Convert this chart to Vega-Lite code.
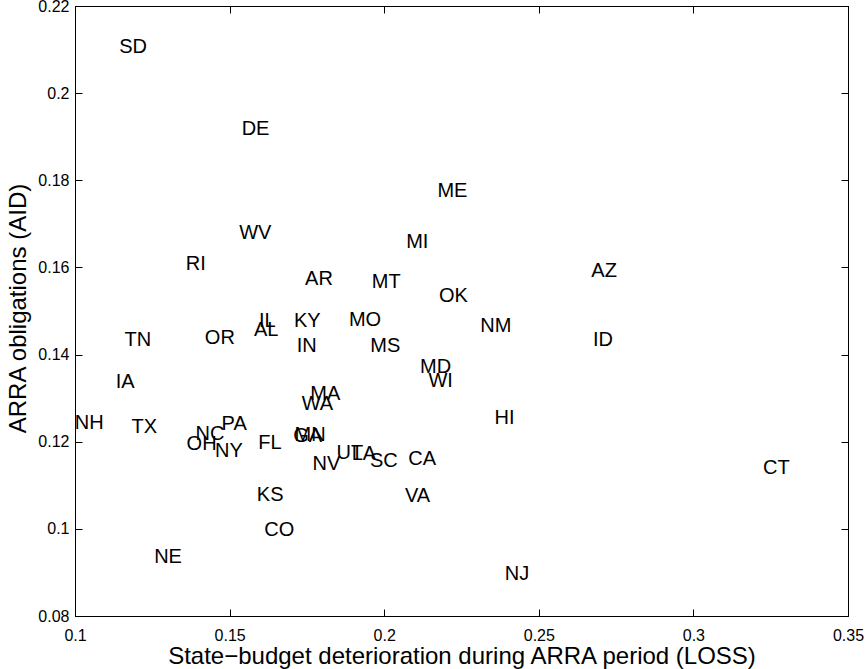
{
  "$schema": "https://vega.github.io/schema/vega-lite/v6.json",
  "width": 773,
  "height": 610,
  "autosize": {"type": "none"},
  "padding": {"left": 75, "top": 6, "right": 19, "bottom": 53},
  "background": "white",
  "config": {
    "view": {"stroke": "black", "strokeWidth": 1},
    "axis": {
      "grid": false,
      "domainColor": "black",
      "domainWidth": 1,
      "tickColor": "black",
      "tickWidth": 1,
      "tickSize": -7,
      "labelColor": "black",
      "titleColor": "black",
      "labelFont": "Liberation Sans",
      "titleFont": "Liberation Sans",
      "labelFontSize": 16,
      "titleFontSize": 24,
      "titleFontWeight": "normal",
      "labelFlush": false,
      "labelOverlap": false
    }
  },
  "data": {
    "values": [
      {"state": "SD", "loss": 0.1143, "aid": 0.2109},
      {"state": "DE", "loss": 0.1539, "aid": 0.1919},
      {"state": "ME", "loss": 0.2172, "aid": 0.1778},
      {"state": "WV", "loss": 0.1531, "aid": 0.1682},
      {"state": "MI", "loss": 0.2071, "aid": 0.1661},
      {"state": "RI", "loss": 0.1358, "aid": 0.1611},
      {"state": "AR", "loss": 0.1744, "aid": 0.1575},
      {"state": "MT", "loss": 0.1960, "aid": 0.1569},
      {"state": "OK", "loss": 0.2177, "aid": 0.1537},
      {"state": "AZ", "loss": 0.2670, "aid": 0.1594},
      {"state": "NM", "loss": 0.2311, "aid": 0.1468},
      {"state": "ID", "loss": 0.2675, "aid": 0.1436},
      {"state": "IL", "loss": 0.1595, "aid": 0.1480},
      {"state": "AL", "loss": 0.1579, "aid": 0.1458},
      {"state": "KY", "loss": 0.1708, "aid": 0.1479},
      {"state": "MO", "loss": 0.1886, "aid": 0.1481},
      {"state": "TN", "loss": 0.1160, "aid": 0.1435},
      {"state": "OR", "loss": 0.1420, "aid": 0.1441},
      {"state": "IN", "loss": 0.1717, "aid": 0.1423},
      {"state": "MS", "loss": 0.1955, "aid": 0.1421},
      {"state": "IA", "loss": 0.1132, "aid": 0.1340},
      {"state": "MD", "loss": 0.2116, "aid": 0.1374},
      {"state": "WI", "loss": 0.2143, "aid": 0.1342},
      {"state": "MA", "loss": 0.1761, "aid": 0.1311},
      {"state": "WA", "loss": 0.1733, "aid": 0.1288},
      {"state": "NH", "loss": 0.0999, "aid": 0.1246},
      {"state": "TX", "loss": 0.1183, "aid": 0.1235},
      {"state": "PA", "loss": 0.1474, "aid": 0.1243},
      {"state": "NC", "loss": 0.1390, "aid": 0.1219},
      {"state": "OH", "loss": 0.1361, "aid": 0.1197},
      {"state": "NY", "loss": 0.1453, "aid": 0.1181},
      {"state": "FL", "loss": 0.1593, "aid": 0.1200},
      {"state": "GA", "loss": 0.1706, "aid": 0.1216},
      {"state": "MN", "loss": 0.1710, "aid": 0.1218},
      {"state": "NV", "loss": 0.1768, "aid": 0.1152},
      {"state": "UT", "loss": 0.1846, "aid": 0.1177},
      {"state": "LA", "loss": 0.1895, "aid": 0.1174},
      {"state": "SC", "loss": 0.1954, "aid": 0.1158},
      {"state": "CA", "loss": 0.2078, "aid": 0.1162},
      {"state": "HI", "loss": 0.2357, "aid": 0.1257},
      {"state": "CT", "loss": 0.3225, "aid": 0.1143},
      {"state": "VA", "loss": 0.2067, "aid": 0.1078},
      {"state": "KS", "loss": 0.1588, "aid": 0.1080},
      {"state": "CO", "loss": 0.1612, "aid": 0.1000},
      {"state": "NE", "loss": 0.1256, "aid": 0.0937},
      {"state": "NJ", "loss": 0.2390, "aid": 0.0899}
    ]
  },
  "layer": [
    {
      "mark": {"type": "text", "align": "left", "baseline": "middle", "dy": 1, "font": "Liberation Sans", "fontSize": 20, "color": "black"},
      "encoding": {
        "x": {
          "field": "loss", "type": "quantitative",
          "scale": {"domain": [0.1, 0.35], "nice": false, "zero": false},
          "axis": {
            "orient": "bottom",
            "values": [0.1, 0.15, 0.2, 0.25, 0.3, 0.35],
            "format": "~g",
            "labelPadding": 18,
            "title": "State\u2212budget deterioration during ARRA period (LOSS)",
            "titleX": 386.5,
            "titleY": 47,
            "titleBaseline": "alphabetic",
            "titleAlign": "center"
          }
        },
        "y": {
          "field": "aid", "type": "quantitative",
          "scale": {"domain": [0.08, 0.22], "nice": false, "zero": false},
          "axis": {
            "orient": "left",
            "values": [0.08, 0.1, 0.12, 0.14, 0.16, 0.18, 0.2, 0.22],
            "format": "~g",
            "labelPadding": 13,
            "title": "ARRA obligations (AID)",
            "titleX": -50,
            "titleY": 302,
            "titleBaseline": "alphabetic",
            "titleAlign": "center",
            "titleAngle": 270
          }
        },
        "text": {"field": "state", "type": "nominal"}
      }
    },
    {
      "mark": {"type": "point", "opacity": 0},
      "encoding": {
        "x": {
          "field": "loss", "type": "quantitative",
          "axis": {"orient": "top", "values": [0.1, 0.15, 0.2, 0.25, 0.3, 0.35], "labels": false, "title": null}
        },
        "y": {
          "field": "aid", "type": "quantitative",
          "axis": {"orient": "right", "values": [0.08, 0.1, 0.12, 0.14, 0.16, 0.18, 0.2, 0.22], "labels": false, "title": null}
        }
      }
    }
  ],
  "resolve": {"axis": {"x": "independent", "y": "independent"}}
}
